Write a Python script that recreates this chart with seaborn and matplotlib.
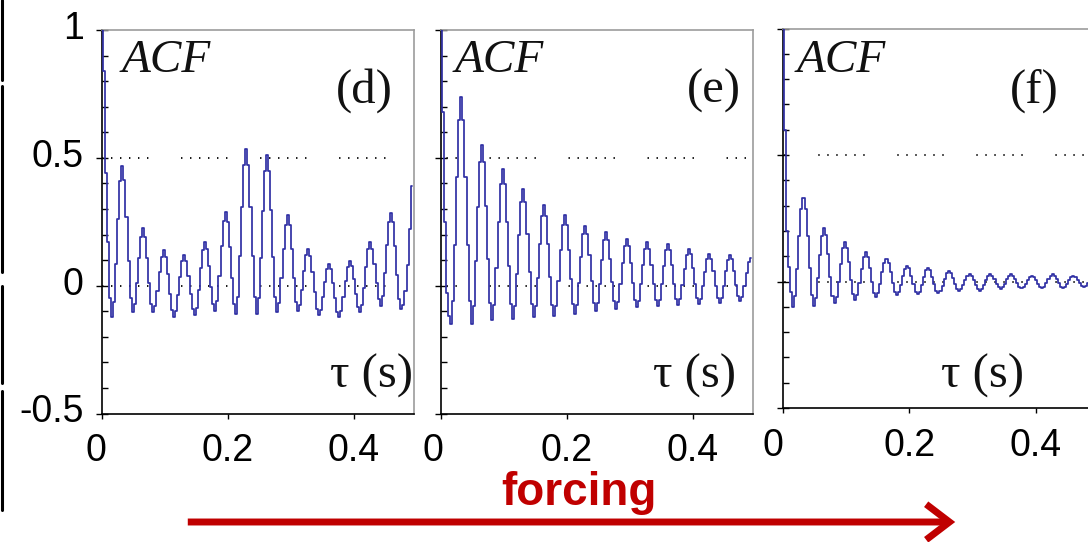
import numpy as np
import matplotlib
matplotlib.use("Agg")
import matplotlib.pyplot as plt
import seaborn as sns
from matplotlib.lines import Line2D
from matplotlib.patches import FancyArrowPatch
from matplotlib.ticker import FixedLocator, MultipleLocator
from matplotlib.transforms import ScaledTranslation

# ---------------------------------------------------------------------------
# Autocorrelation functions (lag step in seconds, one value per lag)
# ---------------------------------------------------------------------------
LAG_STEP = 0.00328

acf_d = [
    1.0, 0.84, 0.44, 0.17, -0.05, -0.123, -0.064, 0.085, 0.262, 0.411,
    0.47, 0.413, 0.269, 0.097, -0.047, -0.104, -0.071, 0.011, 0.110, 0.192,
    0.225, 0.192, 0.110, 0.011, -0.071, -0.104, -0.080, -0.019, 0.053, 0.114,
    0.138, 0.112, 0.047, -0.032, -0.097, -0.123, -0.099, -0.038, 0.035, 0.096,
    0.12, 0.096, 0.037, -0.033, -0.092, -0.116, -0.087, -0.016, 0.070, 0.141,
    0.17, 0.143, 0.076, -0.006, -0.073, -0.1, -0.061, 0.037, 0.154, 0.251,
    0.29, 0.25, 0.15, 0.03, -0.07, -0.11, -0.046, 0.116, 0.309, 0.471,
    0.535, 0.471, 0.309, 0.116, -0.046, -0.11, -0.048, 0.107, 0.293, 0.448,
    0.51, 0.449, 0.295, 0.111, -0.043, -0.104, -0.066, 0.029, 0.142, 0.237,
    0.275, 0.238, 0.144, 0.031, -0.063, -0.1, -0.076, -0.015, 0.058, 0.119,
    0.143, 0.117, 0.052, -0.025, -0.090, -0.116, -0.096, -0.046, 0.015, 0.065,
    0.085, 0.064, 0.012, -0.050, -0.102, -0.123, -0.101, -0.046, 0.019, 0.074,
    0.096, 0.076, 0.026, -0.034, -0.084, -0.104, -0.077, -0.008, 0.074, 0.143,
    0.17, 0.145, 0.083, 0.009, -0.053, -0.078, -0.042, 0.049, 0.159, 0.250,
    0.286, 0.248, 0.154, 0.042, -0.052, -0.09, -0.075, -0.02, 0.08, 0.22,
    0.39,
]

acf_e = [
    1.0, 0.68, 0.25, -0.03, -0.12, -0.149, -0.061, 0.161, 0.426, 0.648,
    0.736, 0.647, 0.426, 0.160, -0.061, -0.15, -0.080, 0.096, 0.306, 0.482,
    0.552, 0.483, 0.311, 0.105, -0.067, -0.136, -0.077, 0.071, 0.248, 0.396,
    0.455, 0.397, 0.250, 0.075, -0.072, -0.13, -0.079, 0.047, 0.200, 0.326,
    0.377, 0.327, 0.202, 0.052, -0.073, -0.123, -0.079, 0.031, 0.162, 0.272,
    0.316, 0.273, 0.164, 0.035, -0.074, -0.117, -0.078, 0.020, 0.138, 0.236,
    0.275, 0.237, 0.140, 0.025, -0.072, -0.11, -0.076, 0.011, 0.114, 0.201,
    0.235, 0.202, 0.118, 0.017, -0.067, -0.1, -0.069, 0.008, 0.100, 0.177,
    0.208, 0.178, 0.104, 0.014, -0.060, -0.09, -0.063, 0.005, 0.087, 0.155,
    0.182, 0.155, 0.089, 0.009, -0.057, -0.084, -0.059, 0.005, 0.080, 0.144,
    0.169, 0.144, 0.082, 0.007, -0.055, -0.08, -0.056, 0.005, 0.077, 0.138,
    0.162, 0.138, 0.079, 0.008, -0.051, -0.075, -0.053, 0.001, 0.067, 0.121,
    0.143, 0.122, 0.068, 0.005, -0.049, -0.07, -0.051, -0.002, 0.055, 0.104,
    0.123, 0.104, 0.057, 0.0, -0.047, -0.066, -0.047, -0.001, 0.056, 0.102,
    0.121, 0.103, 0.058, 0.003, -0.042, -0.06, -0.043, 0.0, 0.051, 0.093,
    0.11,
]

acf_f = [
    1.0, 0.6, 0.2, 0.057, -0.04, -0.101, -0.058, 0.050, 0.179, 0.287,
    0.33, 0.288, 0.181, 0.054, -0.053, -0.095, -0.064, 0.012, 0.105, 0.181,
    0.212, 0.182, 0.108, 0.018, -0.056, -0.086, -0.062, -0.002, 0.071, 0.131,
    0.155, 0.132, 0.076, 0.007, -0.049, -0.072, -0.053, -0.006, 0.050, 0.097,
    0.116, 0.098, 0.054, 0.0, -0.044, -0.062, -0.047, -0.009, 0.036, 0.074,
    0.089, 0.075, 0.039, -0.005, -0.041, -0.055, -0.043, -0.014, 0.022, 0.051,
    0.063, 0.052, 0.023, -0.011, -0.040, -0.051, -0.041, -0.014, 0.017, 0.044,
    0.054, 0.044, 0.019, -0.011, -0.036, -0.046, -0.037, -0.016, 0.011, 0.032,
    0.041, 0.033, 0.013, -0.010, -0.030, -0.038, -0.031, -0.015, 0.005, 0.021,
    0.028, 0.022, 0.006, -0.014, -0.030, -0.036, -0.030, -0.014, 0.006, 0.022,
    0.028, 0.022, 0.008, -0.009, -0.023, -0.029, -0.023, -0.009, 0.008, 0.022,
    0.028, 0.023, 0.009, -0.007, -0.021, -0.026, -0.021, -0.009, 0.005, 0.017,
    0.022, 0.017, 0.005, -0.009, -0.021, -0.026, -0.021, -0.007, 0.009, 0.023,
    0.028, 0.023, 0.009, -0.006, -0.020, -0.025, -0.021, -0.009, 0.004, 0.016,
    0.02, 0.016, 0.005, -0.007, -0.018, -0.022, -0.018, -0.007, 0.005, 0.016,
    0.02,
]

panel_tags = ["(d)", "(e)", "(f)"]
x_ticks = [0.0, 0.2, 0.4]
x_tick_labels = ["0", "0.2", "0.4"]
y_ticks = [-0.5, 0.0, 0.5, 1.0]
y_tick_labels = ["-0.5", "0", "0.5", "1"]
guide_levels = [0.0, 0.5]
x_range = (0.0, 0.496)
y_range = (-0.5, 1.0)
y_label = "ACF"
x_label = "\u03c4 (s)"
trend_label = "forcing"

# ---------------------------------------------------------------------------
# Style
# ---------------------------------------------------------------------------
sns.set_theme(style="ticks")
plt.rcParams["font.family"] = ["Liberation Sans", "DejaVu Sans"]
plt.rcParams["lines.scale_dashes"] = False

W, H = 1088, 542
DPI = 100
CURVE = "#3030a4"
FRAME_GREY = "#9c9c9c"
RED = "#c00000"
INK = "#111111"
SERIF = ["Liberation Serif", "DejaVu Serif"]

fig = plt.figure(figsize=(W / DPI, H / DPI), dpi=DPI, facecolor="white")


def fx(px):
    return px / W


def fy(py):
    return 1.0 - py / H


def box(left, top, right, bottom):
    return [fx(left), fy(bottom), fx(right) - fx(left), fy(top) - fy(bottom)]


# axes boxes in pixels: left, top, right, bottom
boxes = [
    (101.7, 30.0, 414.2, 413.5),
    (440.7, 30.0, 753.2, 413.5),
    (782.7, 28.5, 1096.7, 408.0),
]
series = [acf_d, acf_e, acf_f]
# phase of the dotted guide pattern at each panel's left edge (points)
guide_offsets = [0.0, 22.0, 31.5]
zero_label_shift = [-6, -8, -10]
acf_pos = [(122, 72), (455, 72), (797, 72)]
tag_pos = [(393, 103), (741, 103), (1059, 103)]
tau_pos = [(413, 388), (736, 388), (1024, 388)]

dot_pattern = (1.0, 5.48, 1.0, 5.48, 1.0, 5.48, 1.0, 5.48, 1.0, 5.48, 1.0, 23.5)

for i, (b, acf) in enumerate(zip(boxes, series)):
    ax = fig.add_axes(box(*b))
    ax.set_facecolor("white")
    lags = np.arange(len(acf)) * LAG_STEP

    for lvl in guide_levels:
        ax.axhline(lvl, color="black", lw=1.3,
                   linestyle=(guide_offsets[i], dot_pattern), zorder=1)

    sns.lineplot(x=lags, y=acf, ax=ax, color=CURVE, linewidth=1.25,
                 drawstyle="steps-mid", estimator=None, zorder=3)

    ax.set_xlim(*x_range)
    ax.set_ylim(*y_range)
    ax.set_xlabel("")
    ax.set_ylabel("")

    for side in ("left", "bottom"):
        ax.spines[side].set_color("black")
        ax.spines[side].set_linewidth(1.2)
    for side in ("top", "right"):
        ax.spines[side].set_visible(True)
        ax.spines[side].set_color(FRAME_GREY)
        ax.spines[side].set_linewidth(1.2)

    ax.xaxis.set_major_locator(FixedLocator(x_ticks))
    ax.set_xticklabels(x_tick_labels)
    ax.yaxis.set_major_locator(FixedLocator(y_ticks))
    ax.yaxis.set_minor_locator(MultipleLocator(0.1))
    ax.set_yticklabels(y_tick_labels)

    ax.tick_params(axis="x", which="major", direction="out", length=3.6,
                   width=1.0, color="black", labelsize=27, pad=10.5,
                   labelcolor="black", top=False)
    ax.tick_params(axis="x", which="minor", bottom=False, top=False)
    ax.tick_params(axis="y", which="major", direction="inout", length=8,
                   width=1.0, color="black", labelsize=27, pad=9,
                   labelcolor="black", right=False, labelleft=(i == 0))
    ax.tick_params(axis="y", which="minor", direction="in", length=4.5,
                   width=1.0, color="black", right=False)

    # nudge the "0" lag label left and the y labels slightly up
    t0 = ax.xaxis.get_major_ticks()[0]
    t0.label1.set_transform(t0.label1.get_transform() +
                            ScaledTranslation(zero_label_shift[i] / DPI, 0,
                                              fig.dpi_scale_trans))
    if i == 0:
        for tk in ax.yaxis.get_major_ticks():
            tk.label1.set_transform(tk.label1.get_transform() +
                                    ScaledTranslation(0, 5 / DPI,
                                                      fig.dpi_scale_trans))

    fig.text(fx(acf_pos[i][0]), fy(acf_pos[i][1]), y_label, family=SERIF,
             style="italic", fontsize=34, color=INK,
             ha="left", va="baseline")
    fig.text(fx(tag_pos[i][0]), fy(tag_pos[i][1]), panel_tags[i],
             family=SERIF, fontsize=35, color=INK,
             ha="right", va="baseline")
    fig.text(fx(tau_pos[i][0]), fy(tau_pos[i][1]), x_label, family=SERIF,
             fontsize=35, color=INK, ha="right", va="baseline")

# forcing arrow and label
fig.text(fx(579), fy(505), trend_label, fontsize=33, fontweight="bold",
         color=RED, ha="center", va="baseline")
arrow = FancyArrowPatch((fx(185), fy(522)), (fx(958), fy(522)),
                        transform=fig.transFigure,
                        arrowstyle="->,head_length=0.42,head_width=0.32",
                        mutation_scale=40, color=RED, lw=5.0,
                        capstyle="butt", joinstyle="miter")
fig.add_artist(arrow)

# dark rule along the left margin
for y0, y1 in [(0, 80), (86, 272), (286, 383), (391, 510)]:
    fig.add_artist(Line2D([fx(1.5), fx(1.5)], [fy(y0), fy(y1)],
                          transform=fig.transFigure, color="black", lw=2.2))

fig.savefig("out.png", dpi=DPI, facecolor="white")
